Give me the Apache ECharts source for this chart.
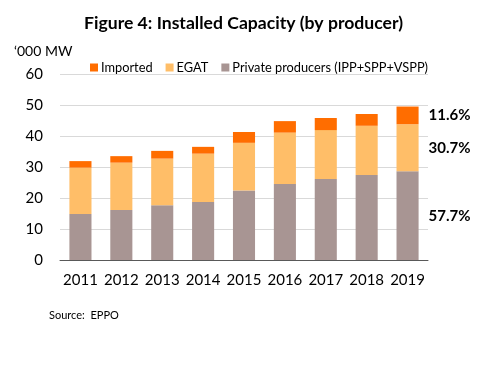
<!DOCTYPE html>
<html>
<head>
<meta charset="utf-8">
<script src="https://cdn.jsdelivr.net/npm/echarts@6/dist/echarts.min.js"></script>
<style>
  html, body { margin: 0; padding: 0; background: #fff; }
  #chart { width: 487px; height: 377px; }
</style>
</head>
<body>
<div id="chart"></div>
<script>
const years = ["2011", "2012", "2013", "2014", "2015", "2016", "2017", "2018", "2019"]
const privateProducers = [14.8, 16.1, 17.7, 18.7, 22.4, 24.5, 26.1, 27.4, 28.6]
const egat = [15.0, 15.3, 15.0, 15.6, 15.4, 16.6, 15.8, 15.9, 15.2]
const imported = [2.1, 2.1, 2.5, 2.2, 3.5, 3.7, 3.9, 3.8, 5.7]
// shares shown beside the 2019 bar
const shares2019 = { private: "57.7%", egat: "30.7%", imported: "11.6%" }

const font = "Lato, 'Noto Sans', sans-serif"
const lastIndex = years.length - 1

function shareLabel(text) {
  return {
    show: true,
    position: "right",
    distance: 10,
    formatter: (p) => p.dataIndex === lastIndex ? text : "",
    fontFamily: font,
    fontWeight: "bold",
    fontSize: 15,
    color: "#000"
  }
}

const chart = echarts.init(document.getElementById("chart"), null, { renderer: "canvas" })

chart.setOption({
  animation: false,
  title: [
    {
      text: "Figure 4: Installed Capacity (by producer)",
      left: "center",
      top: 9,
      textStyle: { fontFamily: font, fontWeight: "bold", fontSize: 17.6, color: "#000" }
    },
    {
      text: "\u2018000 MW",
      left: 9,
      top: 39,
      textStyle: { fontFamily: font, fontWeight: "normal", fontSize: 14, color: "#000" }
    },
    {
      text: "Source:  EPPO",
      left: 44,
      top: 305,
      textStyle: { fontFamily: font, fontWeight: "normal", fontSize: 11, color: "#000" }
    }
  ],
  legend: {
    data: ["Imported", "EGAT", "Private producers (IPP+SPP+VSPP)"],
    left: 85,
    top: 56,
    icon: "rect",
    itemWidth: 8,
    itemHeight: 8,
    itemGap: 13,
    textStyle: { fontFamily: font, fontSize: 12.8, color: "#000", padding: [0, 0, 0, -2] }
  },
  grid: { left: 60, right: 59, top: 74, bottom: 117 },
  xAxis: {
    type: "category",
    data: years,
    axisTick: { show: false },
    axisLine: { lineStyle: { color: "#595959", width: 1 } },
    axisLabel: { interval: 0, fontFamily: font, fontSize: 15, color: "#000", margin: 13 }
  },
  yAxis: {
    type: "value",
    min: 0,
    max: 60,
    interval: 10,
    axisLine: { show: false },
    axisTick: { show: false },
    splitLine: { lineStyle: { color: "#d9d9d9" } },
    axisLabel: { fontFamily: font, fontSize: 15, color: "#000", margin: 17 }
  },
  series: [
    {
      name: "Private producers (IPP+SPP+VSPP)",
      type: "bar",
      stack: "total",
      barWidth: "54%",
      data: privateProducers,
      itemStyle: { color: "#a89593" },
      label: shareLabel(shares2019.private)
    },
    {
      name: "EGAT",
      type: "bar",
      stack: "total",
      data: egat,
      itemStyle: { color: "#ffbe68" },
      label: shareLabel(shares2019.egat)
    },
    {
      name: "Imported",
      type: "bar",
      stack: "total",
      data: imported,
      itemStyle: { color: "#ff6d00" },
      label: shareLabel(shares2019.imported)
    }
  ]
})
</script>
</body>
</html>
